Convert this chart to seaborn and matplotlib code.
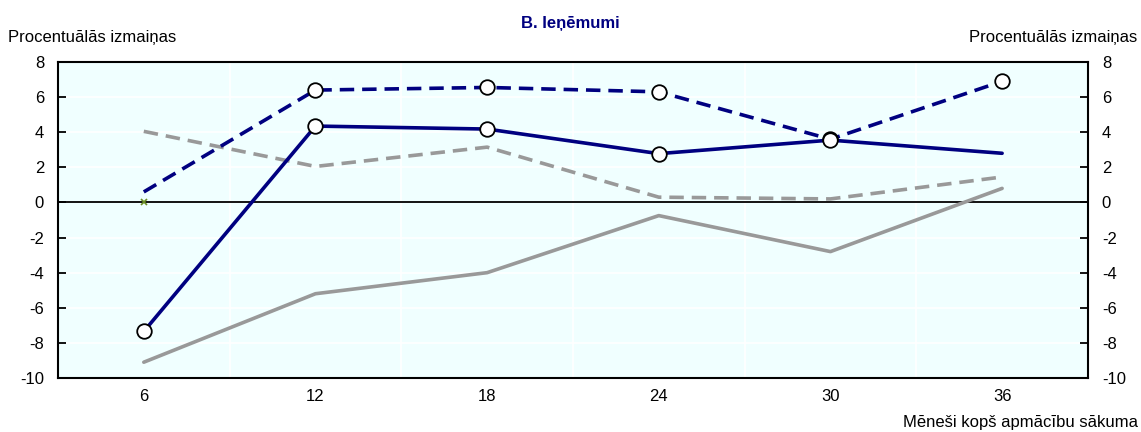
import numpy as np
import pandas as pd
import matplotlib.pyplot as plt
import seaborn as sns

# Data
months = ['6', '12', '18', '24', '30', '36']
navy_dashed = [0.6, 6.4, 6.55, 6.3, 3.6, 6.9]
navy_solid = [-7.35, 4.35, 4.18, 2.78, 3.55, 2.8]
grey_dashed = [4.05, 2.05, 3.15, 0.3, 0.2, 1.45]
grey_solid = [-9.1, -5.2, -4.0, -0.75, -2.8, 0.8]
# which points carry a hollow circle marker
navy_dashed_mark = [False, True, True, True, True, True]
navy_solid_mark = [True, True, True, True, True, False]

sns.set_style('white')
plt.rcParams['font.family'] = ['Liberation Sans Narrow', 'Liberation Sans', 'DejaVu Sans']
plt.rcParams['axes.unicode_minus'] = False
plt.rcParams['text.color'] = 'black'
plt.rcParams['xtick.color'] = 'black'
plt.rcParams['ytick.color'] = 'black'

fig = plt.figure(figsize=(11.41, 4.32), dpi=100)
ax = fig.add_axes([0.0508, 0.125, 0.9027, 0.7315])
ax.set_facecolor('#f0ffff')

pos = np.arange(1, len(months) + 1)
df = pd.DataFrame({'pos': pos, 'nd': navy_dashed, 'ns': navy_solid,
                   'gd': grey_dashed, 'gs': grey_solid})

# white grid lines
for y in range(-10, 9, 2):
    ax.axhline(y, color='white', lw=1.2, zorder=0)
for x in np.arange(1.5, 6.5, 1):
    ax.axvline(x, color='white', lw=1.2, zorder=0)
ax.axhline(0, color='black', lw=1.3, zorder=1)

sns.lineplot(data=df, x='pos', y='gs', ax=ax, color='#999999', lw=2.6, zorder=2)
sns.lineplot(data=df, x='pos', y='gd', ax=ax, color='#999999', lw=2.6, zorder=2)
ax.lines[-1].set_dashes([4, 2.2])
sns.lineplot(data=df, x='pos', y='ns', ax=ax, color='#000080', lw=2.6, zorder=3)
sns.lineplot(data=df, x='pos', y='nd', ax=ax, color='#000080', lw=2.6, zorder=3)
ax.lines[-1].set_dashes([4, 2.2])

mk = df[navy_dashed_mark]
sns.scatterplot(x=mk['pos'], y=mk['nd'], ax=ax, s=110, color='white',
                edgecolor='black', linewidth=1.3, zorder=4)
mk = df[navy_solid_mark]
sns.scatterplot(x=mk['pos'], y=mk['ns'], ax=ax, s=110, color='white',
                edgecolor='black', linewidth=1.3, zorder=4)
# small green cross at the first month on the zero line
ax.plot(pos[0], 0, marker='x', color='#6b8e23', ms=4, mew=1.2, zorder=5)

ax.set_xlim(0.5, 6.5)
ax.set_ylim(-10, 8)
ax.set_xticks(pos)
ax.set_xticklabels(months)
ax.set_yticks(range(-10, 9, 2))
ax.tick_params(axis='x', length=0, labelsize=12, pad=8)
ax.tick_params(axis='y', direction='in', length=6, width=1.3, labelsize=12,
               left=True, right=True, labelleft=True, labelright=True, pad=10)
ax.set_xlabel('')
ax.set_ylabel('')
for s in ax.spines.values():
    s.set_visible(True)
    s.set_color('black')
    s.set_linewidth(1.5)

fig.text(0.5, 0.945, 'B. Ieņēmumi', color='#000080', fontweight='bold',
         fontsize=12, ha='center', va='center')
fig.text(0.007, 0.914, 'Procentuālās izmaiņas', fontsize=12, ha='left', va='center')
fig.text(0.997, 0.914, 'Procentuālās izmaiņas', fontsize=12, ha='right', va='center')
fig.text(0.997, 0.023, 'Mēneši kopš apmācību sākuma', fontsize=12, ha='right', va='center')

fig.savefig('out.png', dpi=100)
